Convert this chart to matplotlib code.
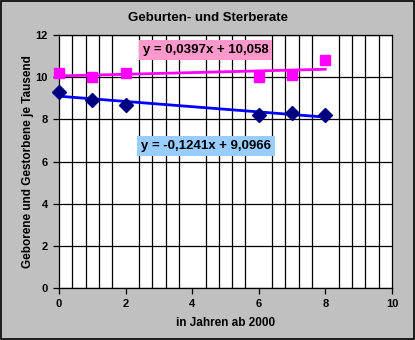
import matplotlib
matplotlib.use("Agg")
import matplotlib.pyplot as plt
import numpy as np
from matplotlib.patches import Rectangle

plt.rcParams['font.family'] = ['Liberation Sans', 'DejaVu Sans']

years = [0, 1, 2, 6, 7, 8]
geborene = [10.2, 10.0, 10.2, 10.0, 10.1, 10.8]
gestorbene = [9.3, 8.9, 8.7, 8.2, 8.3, 8.2]
trend_geb = (0.0397, 10.058)
trend_gest = (-0.1241, 9.0966)
label_geb = "y = 0,0397x + 10,058"
label_gest = "y = -0,1241x + 9,0966"
title = "Geburten- und Sterberate"
xlabel = "in Jahren ab 2000"
ylabel = "Geborene und Gestorbene je Tausend"

fig = plt.figure(figsize=(4.15, 3.4), dpi=100, facecolor='#C0C0C0')
fig.patches.append(Rectangle((0.002, 0.003), 0.995, 0.994, transform=fig.transFigure,
                             fill=False, edgecolor='black', linewidth=1.2))
ax = fig.add_axes([59/415, 52/340, 333/415, 253/340])
ax.set_facecolor('white')
ax.set_xlim(0, 10)
ax.set_ylim(0, 12)
ax.set_xticks(np.arange(0, 11, 2))
ax.set_yticks(np.arange(0, 13, 2))
ax.set_xticks(np.arange(0, 10.01, 0.4), minor=True)
ax.grid(True, which='major', axis='y', color='black', linewidth=0.9)
ax.grid(True, which='minor', axis='x', color='black', linewidth=0.9)
ax.tick_params(axis='x', which='minor', length=0)
ax.tick_params(axis='both', which='major', direction='out', length=4, width=0.9,
               labelsize=8, pad=4)
for lab in ax.get_xticklabels() + ax.get_yticklabels():
    lab.set_fontweight('bold')
for s in ax.spines.values():
    s.set_color('black')
    s.set_linewidth(0.9)

xs = np.array([min(years), max(years)])
ax.plot(xs, trend_geb[0]*xs + trend_geb[1], color='#FF00FF', linewidth=2, zorder=3)
ax.plot(xs, trend_gest[0]*xs + trend_gest[1], color='#0000FF', linewidth=2, zorder=3)
ax.plot(years, geborene, linestyle='none', marker='s', markersize=6.5,
        color='#FF00FF', zorder=4, clip_on=False)
ax.plot(years, gestorbene, linestyle='none', marker='D', markersize=6.8,
        color='#000080', zorder=4, clip_on=False)

ax.text(4.40, 11.29, label_geb, ha='center', va='center', fontsize=9.5, fontweight='bold',
        bbox=dict(boxstyle='square,pad=0.3', facecolor='#FF99CC', edgecolor='none'), zorder=5)
ax.text(4.42, 6.72, label_gest, ha='center', va='center', fontsize=9.5, fontweight='bold',
        bbox=dict(boxstyle='square,pad=0.3', facecolor='#99CCFF', edgecolor='none'), zorder=5)

fig.text(0.5, 1 - 18/340, title, ha='center', va='center', fontsize=9.5, fontweight='bold')
ax.set_xlabel(xlabel, fontsize=8.5, fontweight='bold', labelpad=6)
ax.set_ylabel(ylabel, fontsize=8.5, fontweight='bold', labelpad=1)

fig.savefig('out.png', dpi=100, facecolor=fig.get_facecolor())
